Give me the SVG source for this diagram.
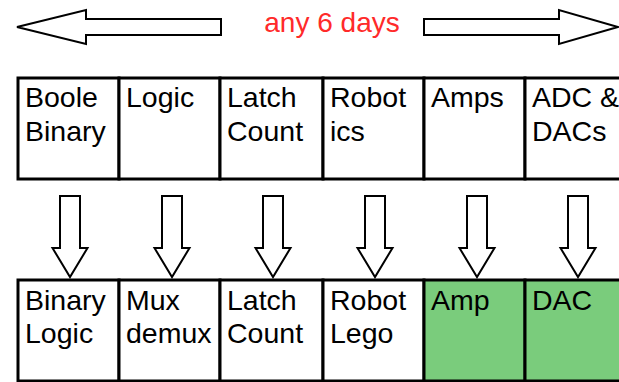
<svg xmlns="http://www.w3.org/2000/svg" width="619" height="382" viewBox="0 0 619 382">
  <style>
    .cell { stroke: #000; stroke-width: 3; fill: #fff; }
    .done { fill: #7acc7c; }
    .arrow { stroke: #000; stroke-width: 2; fill: #fff; stroke-linejoin: miter; }
    .label { font-family: "Liberation Sans", Arial, sans-serif; font-size: 28.5px; fill: #000; }
    .title { font-family: "Liberation Sans", Arial, sans-serif; font-size: 28px; fill: #ff2a2a; }
  </style>
  <defs>
    <path id="down" d="M -10 0 H 10 V 52 H 17.5 L 0 81 L -17.5 52 H -10 Z"/>
  </defs>

  <!-- span of days -->
  <g id="span">
    <path class="arrow" d="M 221 19 V 35 H 86 V 44 L 17 27 L 86 10 V 19 Z"/>
    <path class="arrow" d="M 424 19 V 35 H 559 V 44 L 618 27 L 559 10 V 19 Z"/>
    <text class="title" x="332" y="32" text-anchor="middle">any 6 days</text>
  </g>

  <!-- topics row -->
  <g id="topic-boole"><rect class="cell" x="18" y="78" width="101" height="101"/><text class="label" x="25" y="107">Boole</text><text class="label" x="25" y="141">Binary</text></g>
  <g id="topic-logic"><rect class="cell" x="119" y="78" width="101" height="101"/><text class="label" x="126" y="107">Logic</text></g>
  <g id="topic-latch"><rect class="cell" x="220" y="78" width="103" height="101"/><text class="label" x="227" y="107">Latch</text><text class="label" x="227" y="141">Count</text></g>
  <g id="topic-robotics"><rect class="cell" x="323" y="78" width="101" height="101"/><text class="label" x="330" y="107">Robot</text><text class="label" x="330" y="141">ics</text></g>
  <g id="topic-amps"><rect class="cell" x="424" y="78" width="101" height="101"/><text class="label" x="431" y="107">Amps</text></g>
  <g id="topic-adc"><rect class="cell" x="525" y="78" width="101" height="101"/><text class="label" x="532" y="107">ADC &amp;</text><text class="label" x="532" y="141">DACs</text></g>

  <!-- connectors -->
  <g id="connectors">
    <use href="#down" class="arrow" x="70" y="196"/>
    <use href="#down" class="arrow" x="172" y="196"/>
    <use href="#down" class="arrow" x="273" y="196"/>
    <use href="#down" class="arrow" x="375" y="196"/>
    <use href="#down" class="arrow" x="477" y="196"/>
    <use href="#down" class="arrow" x="578" y="196"/>
  </g>

  <!-- labs row -->
  <g id="lab-binary"><rect class="cell" x="18" y="280" width="101" height="101"/><text class="label" x="25" y="310">Binary</text><text class="label" x="25" y="343">Logic</text></g>
  <g id="lab-mux"><rect class="cell" x="119" y="280" width="101" height="101"/><text class="label" x="126" y="310">Mux</text><text class="label" x="126" y="343">demux</text></g>
  <g id="lab-latch"><rect class="cell" x="220" y="280" width="103" height="101"/><text class="label" x="227" y="310">Latch</text><text class="label" x="227" y="343">Count</text></g>
  <g id="lab-robot"><rect class="cell" x="323" y="280" width="101" height="101"/><text class="label" x="330" y="310">Robot</text><text class="label" x="330" y="343">Lego</text></g>
  <g id="lab-amp"><rect class="cell done" x="424" y="280" width="101" height="101"/><text class="label" x="431" y="310">Amp</text></g>
  <g id="lab-dac"><rect class="cell done" x="525" y="280" width="101" height="101"/><text class="label" x="532" y="310">DAC</text></g>
</svg>
